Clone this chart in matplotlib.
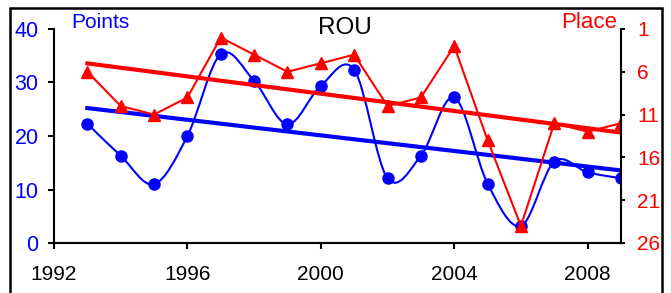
import matplotlib
matplotlib.use('Agg')
import matplotlib.pyplot as plt
from matplotlib.path import Path
from matplotlib.patches import PathPatch, Rectangle
import numpy as np

plt.rcParams['font.family'] = ['Liberation Sans', 'DejaVu Sans']

years = [1993, 1994, 1995, 1996, 1997, 1998, 1999, 2000, 2001,
         2002, 2003, 2004, 2005, 2006, 2007, 2008, 2009]
points = [22.3, 16.3, 11.0, 20.0, 35.3, 30.3, 22.2, 29.4, 32.4,
          12.1, 16.3, 27.2, 11.1, 3.2, 15.2, 13.2, 12.1]
place = [6, 10, 11, 9, 2, 4, 6, 5, 4, 10, 9, 3, 14, 24, 12, 13, 12]

title = 'ROU'
x_ticks = [1992, 1996, 2000, 2004, 2008]
left_ticks = [0, 10, 20, 30, 40]
right_ticks = [1, 6, 11, 16, 21, 26]

BLUE = '#0000ff'
RED = '#ff0000'


def smooth_path(x, y, t=1.0 / 6):
    # Excel-like smoothed line: Catmull-Rom segments as cubic Beziers
    x = np.asarray(x, float)
    y = np.asarray(y, float)
    n = len(x)
    verts = [(x[0], y[0])]
    codes = [Path.MOVETO]
    for i in range(n - 1):
        p0 = np.array([x[max(i - 1, 0)], y[max(i - 1, 0)]])
        p1 = np.array([x[i], y[i]])
        p2 = np.array([x[i + 1], y[i + 1]])
        p3 = np.array([x[min(i + 2, n - 1)], y[min(i + 2, n - 1)]])
        c1 = p1 + (p2 - p0) * t
        c2 = p2 - (p3 - p1) * t
        verts += [tuple(c1), tuple(c2), tuple(p2)]
        codes += [Path.CURVE4] * 3
    return Path(verts, codes)


fig = plt.figure(figsize=(6.71, 2.93), dpi=100)
ax = fig.add_axes([54 / 671, 50 / 293, 567 / 671, 214 / 293])
ax2 = ax.twinx()

# outer frame
fig.patches.append(Rectangle((10 / 671, -0.1), 652 / 671, (285 / 293) + 0.1,
                             transform=fig.transFigure, fill=False,
                             edgecolor='black', linewidth=1.8))

# points (left axis)
ax.add_patch(PathPatch(smooth_path(years, points), fill=False,
                       edgecolor=BLUE, linewidth=1.5))
ax.plot(years, points, linestyle='none', marker='o', markersize=8,
        color=BLUE)
k, b = np.polyfit(years, points, 1)
xs = np.array([years[0], years[-1]])
ax.plot(xs, k * xs + b, color=BLUE, linewidth=3)

# place (right axis, inverted)
ax2.plot(years, place, color=RED, linewidth=1.5, marker='^', markersize=8)
k2, b2 = np.polyfit(years, place, 1)
ax2.plot(xs, k2 * xs + b2, color=RED, linewidth=3)

ax.set_xlim(1992, 2009)
ax.set_ylim(0, 40)
ax2.set_ylim(26, 1)

ax.set_xticks(x_ticks)
ax.set_yticks(left_ticks)
ax2.set_yticks(right_ticks)

for a in (ax, ax2):
    a.spines['top'].set_visible(False)
    for s in a.spines.values():
        s.set_linewidth(1.5)
ax.spines['right'].set_visible(False)
ax2.spines['left'].set_visible(False)

ax.tick_params(axis='x', labelsize=15, colors='black', direction='out',
               length=4, width=1.5, pad=12)
ax.tick_params(axis='y', labelsize=15.5, labelcolor=BLUE, direction='out',
               length=4, width=1.5, pad=7)
ax2.tick_params(axis='y', labelsize=15, labelcolor=RED, direction='out',
                length=3, width=1.5, pad=8.5)

fig.text(345 / 671, 1 - 28 / 293, title, ha='center', va='center',
         fontsize=17.5, color='black')
fig.text(71 / 671, 1 - 22 / 293, 'Points', ha='left', va='center',
         fontsize=15, color=BLUE)
fig.text(617 / 671, 1 - 23 / 293, 'Place', ha='right', va='center',
         fontsize=16, color=RED)

fig.savefig('out.png', dpi=100)
